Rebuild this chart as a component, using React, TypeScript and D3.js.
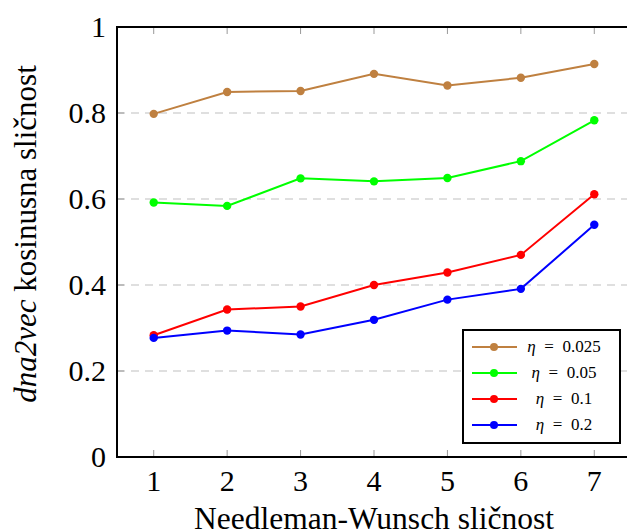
import React, { useEffect, useRef } from 'react';
import * as d3 from 'd3';

// x-axis categories (Needleman-Wunsch similarity)
const xValues = [1, 2, 3, 4, 5, 6, 7];
const yTicks = [0, 0.2, 0.4, 0.6, 0.8, 1];

const eta0025 = [0.798, 0.849, 0.851, 0.891, 0.864, 0.882, 0.914];
const eta005 = [0.592, 0.584, 0.648, 0.641, 0.649, 0.688, 0.783];
const eta01 = [0.283, 0.343, 0.35, 0.4, 0.429, 0.47, 0.611];
const eta02 = [0.277, 0.294, 0.285, 0.319, 0.366, 0.391, 0.54];

const seriesValues = ['0.025', '0.05', '0.1', '0.2'];
const seriesColors = ['#bf8040', '#00ff00', '#ff0000', '#0000ff'];

const W = 627;
const H = 532;
const margin = { top: 27, left: 117, bottom: 75 };
const plotRight = 631;
const FONT = '"Liberation Serif", "DejaVu Serif", serif';

const App = () => {
  const svgRef = useRef<SVGSVGElement>(null);

  useEffect(() => {
    const svg = d3.select(svgRef.current);
    svg.selectAll('*').remove();
    const height = H - margin.top - margin.bottom;

    const x = d3.scaleLinear().domain([0.5, 7.5]).range([margin.left, plotRight]);
    const y = d3.scaleLinear().domain([0, 1]).range([margin.top + height, margin.top]);

    // grid lines
    svg.append('g')
      .selectAll('line')
      .data(yTicks.filter(t => t > 0 && t < 1))
      .enter()
      .append('line')
      .attr('x1', margin.left)
      .attr('x2', plotRight)
      .attr('y1', d => y(d))
      .attr('y2', d => y(d))
      .attr('stroke', '#bfbfbf')
      .attr('stroke-width', 1)
      .attr('stroke-dasharray', '8,6');

    // tick marks at bottom and top
    const tickG = svg.append('g').attr('stroke', '#999').attr('stroke-width', 1);
    xValues.forEach(v => {
      tickG.append('line').attr('x1', x(v)).attr('x2', x(v)).attr('y1', y(0)).attr('y2', y(0) - 7);
      tickG.append('line').attr('x1', x(v)).attr('x2', x(v)).attr('y1', y(1)).attr('y2', y(1) + 7);
    });
    yTicks.forEach(v => {
      tickG.append('line').attr('x1', margin.left).attr('x2', margin.left + 7).attr('y1', y(v)).attr('y2', y(v));
    });

    // series
    const allSeries = [eta0025, eta005, eta01, eta02];
    const line = d3.line<number>()
      .x((d, i) => x(xValues[i]))
      .y(d => y(d));
    allSeries.forEach((vals, si) => {
      const g = svg.append('g');
      g.append('path')
        .datum(vals)
        .attr('d', line)
        .attr('fill', 'none')
        .attr('stroke', seriesColors[si])
        .attr('stroke-width', 2);
      g.selectAll('circle')
        .data(vals)
        .enter()
        .append('circle')
        .attr('cx', (d, i) => x(xValues[i]))
        .attr('cy', d => y(d))
        .attr('r', 4.2)
        .attr('fill', seriesColors[si]);
    });

    // axis frame
    svg.append('rect')
      .attr('x', margin.left)
      .attr('y', margin.top)
      .attr('width', plotRight - margin.left)
      .attr('height', height)
      .attr('fill', 'none')
      .attr('stroke', 'black')
      .attr('stroke-width', 2);

    // tick labels
    svg.append('g')
      .selectAll('text')
      .data(xValues)
      .enter()
      .append('text')
      .attr('x', d => x(d))
      .attr('y', y(0) + 34)
      .attr('text-anchor', 'middle')
      .attr('font-family', FONT)
      .attr('font-size', 30)
      .text(d => d);

    svg.append('g')
      .selectAll('text')
      .data(yTicks)
      .enter()
      .append('text')
      .attr('x', margin.left - 11)
      .attr('y', d => y(d) + 10)
      .attr('text-anchor', 'end')
      .attr('font-family', FONT)
      .attr('font-size', 30)
      .text(d => (d === 0 || d === 1 ? String(d) : d3.format('.1f')(d)));

    // axis labels
    svg.append('text')
      .attr('x', 374)
      .attr('y', 529)
      .attr('text-anchor', 'middle')
      .attr('font-family', FONT)
      .attr('font-size', 31.5)
      .text('Needleman-Wunsch sličnost');

    const yl = svg.append('text')
      .attr('transform', `translate(36, 234) rotate(-90)`)
      .attr('text-anchor', 'middle')
      .attr('font-family', FONT)
      .attr('font-size', 31);
    yl.append('tspan').attr('font-style', 'italic').text('dna2vec');
    yl.append('tspan').text(' kosinusna sličnost');

    // legend
    const lg = svg.append('g');
    lg.append('rect')
      .attr('x', 463)
      .attr('y', 330)
      .attr('width', 157)
      .attr('height', 113)
      .attr('fill', 'white')
      .attr('stroke', 'black')
      .attr('stroke-width', 2);
    seriesValues.forEach((val, i) => {
      const ly = 347 + i * 26;
      lg.append('line')
        .attr('x1', 472).attr('x2', 517)
        .attr('y1', ly).attr('y2', ly)
        .attr('stroke', seriesColors[i])
        .attr('stroke-width', 2);
      lg.append('circle')
        .attr('cx', 494).attr('cy', ly).attr('r', 4)
        .attr('fill', seriesColors[i]);
      const t = lg.append('text')
        .attr('x', 564)
        .attr('y', ly + 5)
        .attr('text-anchor', 'middle')
        .attr('font-family', FONT)
        .attr('font-size', 17)
        .attr('xml:space', 'preserve')
        .style('white-space', 'pre');
      t.append('tspan').attr('font-style', 'italic').text('η');
      t.append('tspan').text('  =  ' + val);
    });
  }, []);

  return (
    <svg ref={svgRef} width={W} height={H} style={{ position: 'absolute', left: 0, top: 0 }} />
  );
};

export default App;
